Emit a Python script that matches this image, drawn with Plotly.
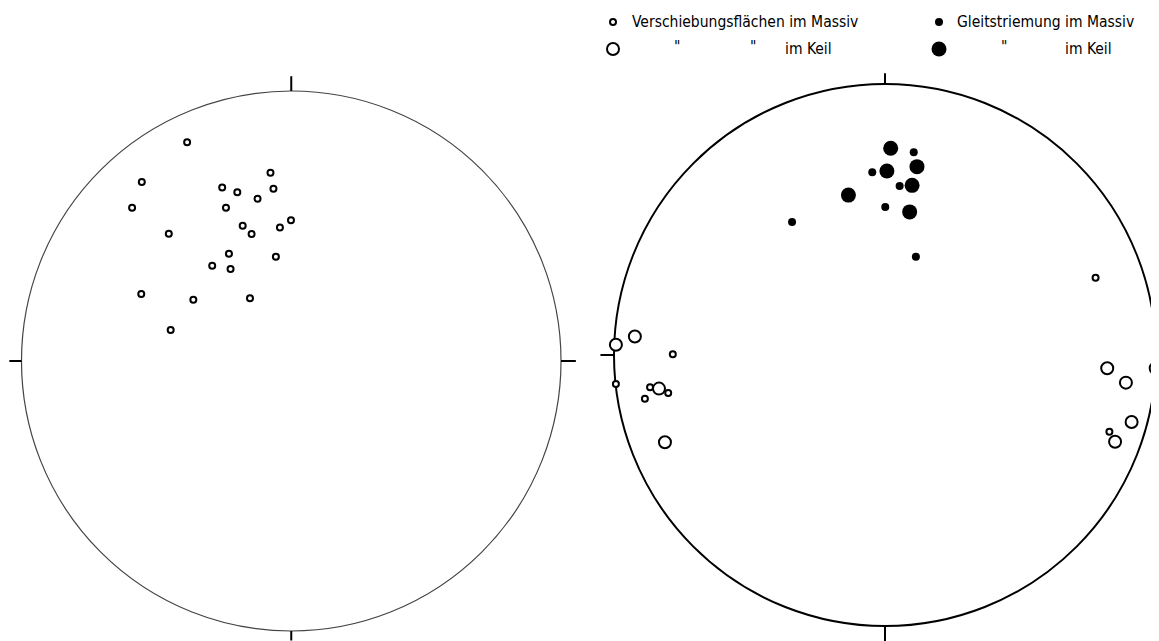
import plotly.graph_objects as go

# page offset of the plot div (default body margin) -> figure is drawn 8px in
OX, OY = 8, 8
PW, PH = 1159, 641
W, H = PW - OX, PH - OY

# ---- data: normalised stereonet coordinates (unit circle) ----
# left net: Verschiebungsflächen (small open)
left_x = [-0.386, -0.554, -0.590, -0.077, -0.256, -0.200, -0.066, -0.125, -0.242, -0.001, -0.042,
          -0.180, -0.147, -0.454, -0.231, -0.057, -0.293, -0.225, -0.556, -0.363, -0.153, -0.447]
left_y = [0.810, 0.663, 0.568, 0.697, 0.643, 0.625, 0.638, 0.601, 0.568, 0.521, 0.494,
          0.501, 0.470, 0.471, 0.397, 0.386, 0.353, 0.341, 0.248, 0.227, 0.232, 0.115]

# right net
gl_massiv_x = [0.106, -0.047, 0.054, 0.001, -0.343, 0.114]
gl_massiv_y = [0.748, 0.674, 0.624, 0.546, 0.491, 0.363]
gl_keil_x = [0.021, 0.007, 0.118, 0.100, -0.135, 0.091]
gl_keil_y = [0.763, 0.679, 0.695, 0.626, 0.590, 0.528]
vf_massiv_x = [-0.783, -0.993, -0.867, -0.800, -0.886, 0.777, 0.997, 0.828]
vf_massiv_y = [0.003, -0.107, -0.119, -0.140, -0.161, 0.285, 0.074, -0.283]
vf_keil_x = [-0.923, -0.993, -0.834, -0.812, 0.999, 0.820, 0.889, 0.910, 0.849]
vf_keil_y = [0.068, 0.038, -0.124, -0.322, -0.049, -0.049, -0.102, -0.247, -0.320]

legend_labels = ["Verschiebungsflächen im Massiv", "im Keil", "Gleitstriemung im Massiv", "im Keil"]

# ---- geometry (page pixels) ----
L = dict(cx=291, cy=361, r=270, xr=(-1.05, 1.07), yr=(-1.035, 1.07))
R = dict(cx=885, cy=355, r=271, xr=(-1.06, 1.01), yr=(-1.055, 1.06))


def domains(g):
    x0 = (g["cx"] - OX + g["xr"][0] * g["r"]) / W
    x1 = (g["cx"] - OX + g["xr"][1] * g["r"]) / W
    y_top = g["cy"] - OY - g["yr"][1] * g["r"]
    y_bot = g["cy"] - OY - g["yr"][0] * g["r"]
    return [max(0, x0), min(1, x1)], [max(0, 1 - y_bot / H), min(1, 1 - y_top / H)]


fig = go.Figure()

small_open = dict(symbol="circle", size=6, color="white", line=dict(color="black", width=2))
big_open = dict(symbol="circle", size=12, color="white", line=dict(color="black", width=2))
small_fill = dict(symbol="circle", size=8, color="black", line=dict(width=0))
big_fill = dict(symbol="circle", size=15, color="black", line=dict(width=0))

fig.add_trace(go.Scatter(x=left_x, y=left_y, mode="markers", marker=small_open,
                         xaxis="x", yaxis="y", cliponaxis=False, hoverinfo="skip"))
fig.add_trace(go.Scatter(x=vf_massiv_x, y=vf_massiv_y, mode="markers", marker=small_open,
                         xaxis="x2", yaxis="y2", cliponaxis=False, hoverinfo="skip"))
fig.add_trace(go.Scatter(x=vf_keil_x, y=vf_keil_y, mode="markers", marker=big_open,
                         xaxis="x2", yaxis="y2", cliponaxis=False, hoverinfo="skip"))
fig.add_trace(go.Scatter(x=gl_massiv_x, y=gl_massiv_y, mode="markers", marker=small_fill,
                         xaxis="x2", yaxis="y2", cliponaxis=False, hoverinfo="skip"))
fig.add_trace(go.Scatter(x=gl_keil_x, y=gl_keil_y, mode="markers", marker=big_fill,
                         xaxis="x2", yaxis="y2", cliponaxis=False, hoverinfo="skip"))

# legend markers on a page-pixel canvas (x3/y3)
leg_mk = [(613, 22, small_open), (613, 49, big_open), (939, 22, small_fill), (939, 49, big_fill)]
for lx, ly, mk in leg_mk:
    fig.add_trace(go.Scatter(x=[lx], y=[ly], mode="markers", marker=mk,
                             xaxis="x3", yaxis="y3", cliponaxis=False, hoverinfo="skip"))

font = dict(family="DejaVu Sans Condensed, Liberation Sans Narrow, sans-serif", size=15.5, color="black")
texts = [(630, 22, legend_labels[0]), (783, 49, legend_labels[1]),
         (955, 22, legend_labels[2]), (1063, 49, legend_labels[3]),
         (677, 47, '"'), (753, 47, '"'), (1004, 47, '"')]
annotations = [dict(x=tx, y=ty, xref="x3", yref="y3", text=t, showarrow=False,
                    xanchor="left" if t != '"' else "center", yanchor="middle", font=font)
               for tx, ty, t in texts]

shapes = []
for ax, g, lc, lw, ticks in [
    ("", L, "#444444", 1.2, [(0, 1, 0, 1.055), (-1, 0, -1.045, 0), (1, 0, 1.055, 0), (0, -1, 0, -1.04)]),
    ("2", R, "black", 2, [(0, 1, 0, 1.04), (-1, 0, -1.05, 0), (0, -1, 0, -1.055), (1, 0, 1.05, 0)]),
]:
    shapes.append(dict(type="circle", xref="x" + ax, yref="y" + ax, x0=-1, y0=-1, x1=1, y1=1,
                       line=dict(color=lc, width=lw), layer="below"))
    for x0, y0, x1, y1 in ticks:
        shapes.append(dict(type="line", xref="x" + ax, yref="y" + ax, x0=x0, y0=y0, x1=x1, y1=y1,
                           line=dict(color="black", width=2), layer="below"))

ldx, ldy = domains(L)
rdx, rdy = domains(R)
hidden = dict(visible=False, showgrid=False, zeroline=False, fixedrange=True)

fig.update_layout(
    width=W, height=H, autosize=False,
    margin=dict(l=0, r=0, t=0, b=0, pad=0),
    paper_bgcolor="white", plot_bgcolor="rgba(0,0,0,0)",
    showlegend=False,
    xaxis=dict(domain=ldx, range=list(L["xr"]), **hidden),
    yaxis=dict(domain=ldy, range=list(L["yr"]), **hidden),
    xaxis2=dict(domain=rdx, range=list(R["xr"]), anchor="y2", **hidden),
    yaxis2=dict(domain=rdy, range=list(R["yr"]), anchor="x2", **hidden),
    xaxis3=dict(domain=[0, 1], range=[OX, PW], anchor="y3", **hidden),
    yaxis3=dict(domain=[0, 1], range=[PH, OY], anchor="x3", **hidden),
    shapes=shapes,
    annotations=annotations,
)

fig.write_html("out.html")
